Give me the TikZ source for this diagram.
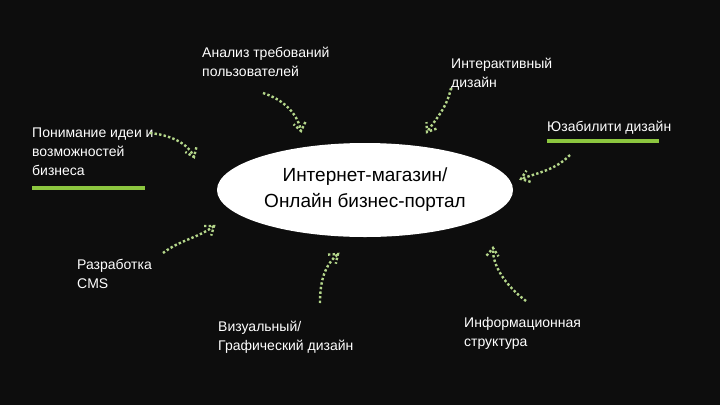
\documentclass[tikz,border=0pt]{standalone}
\usepackage{fontspec}
\setmainfont{Liberation Sans}
\usetikzlibrary{shapes.geometric,decorations.markings}

\definecolor{bgdark}{HTML}{0D0D0D}
\definecolor{dotgreen}{HTML}{B4D68A}
\definecolor{bargreen}{HTML}{8CC63F}

\tikzset{
  label/.style={anchor=north west, inner sep=0pt, align=left, text=white,
    font=\fontsize{14pt}{19pt}\selectfont},
  dotline/.style={draw=dotgreen, line width=2.4pt, dash pattern=on 2.4pt off 2.2pt},
  dotarrow/.style={dotline, postaction={decorate}, decoration={markings,
    mark=at position 1 with {\draw[dotline] (-8pt,6pt) -- (0,0) -- (-8pt,-6pt);}}},
  greenbar/.style={draw=bargreen, line width=3.5pt}
}

\begin{document}
\begin{tikzpicture}[x=1pt, y=-1pt]

  \fill[bgdark] (0,0) rectangle (720,405);
  \useasboundingbox (0,0) rectangle (720,405);

  % centre
  \node[ellipse, fill=white, minimum width=296pt, minimum height=94pt,
    align=center, font=\fontsize{19pt}{26pt}\selectfont] (shop) at (365,190)
    {Интернет-магазин/\\Онлайн бизнес-портал};

  % labels
  \node[label] (analiz) at (202,47) {Анализ требований\\пользователей};
  \node[label] (interakt) at (451,58) {Интерактивный\\дизайн};
  \node[label] (uzabil) at (547,121) {Юзабилити дизайн};
  \node[label] (ponim) at (32,128) {Понимание идеи и\\возможностей\\бизнеса};
  \node[label] (razrab) at (77,259) {Разработка\\CMS};
  \node[label] (vizual) at (218,321) {Визуальный/\\Графический дизайн};
  \node[label] (inform) at (464,317) {Информационная\\структура};

  \draw[greenbar] (547,141) -- (659,141);
  \draw[greenbar] (32,188) -- (145,188);

  % arrow ends
  \coordinate (analiz-s) at (263,93);
  \coordinate (analiz-e) at (301,131);
  \coordinate (interakt-s) at (451,88);
  \coordinate (interakt-e) at (427,132);
  \coordinate (uzabil-s) at (570,155);
  \coordinate (uzabil-e) at (521,179);
  \coordinate (ponim-s) at (150,133);
  \coordinate (ponim-e) at (194,157);
  \coordinate (razrab-s) at (163,253);
  \coordinate (razrab-e) at (214,226);
  \coordinate (vizual-s) at (320,303);
  \coordinate (vizual-e) at (338,254);
  \coordinate (inform-s) at (526,301);
  \coordinate (inform-e) at (493,248);

  \draw[dotarrow] (analiz-s) .. controls (285,100) and (298,115) .. (analiz-e);
  \draw[dotarrow] (interakt-s) .. controls (447,108) and (435,120) .. (interakt-e);
  \draw[dotarrow] (uzabil-s) .. controls (555,170) and (540,172) .. (uzabil-e);
  \draw[dotarrow] (ponim-s) .. controls (170,135) and (188,143) .. (ponim-e);
  \draw[dotarrow] (razrab-s) .. controls (180,240) and (198,238) .. (razrab-e);
  \draw[dotarrow] (vizual-s) .. controls (320,280) and (325,265) .. (vizual-e);
  \draw[dotarrow] (inform-s) .. controls (505,285) and (492,265) .. (inform-e);

\end{tikzpicture}
\end{document}
